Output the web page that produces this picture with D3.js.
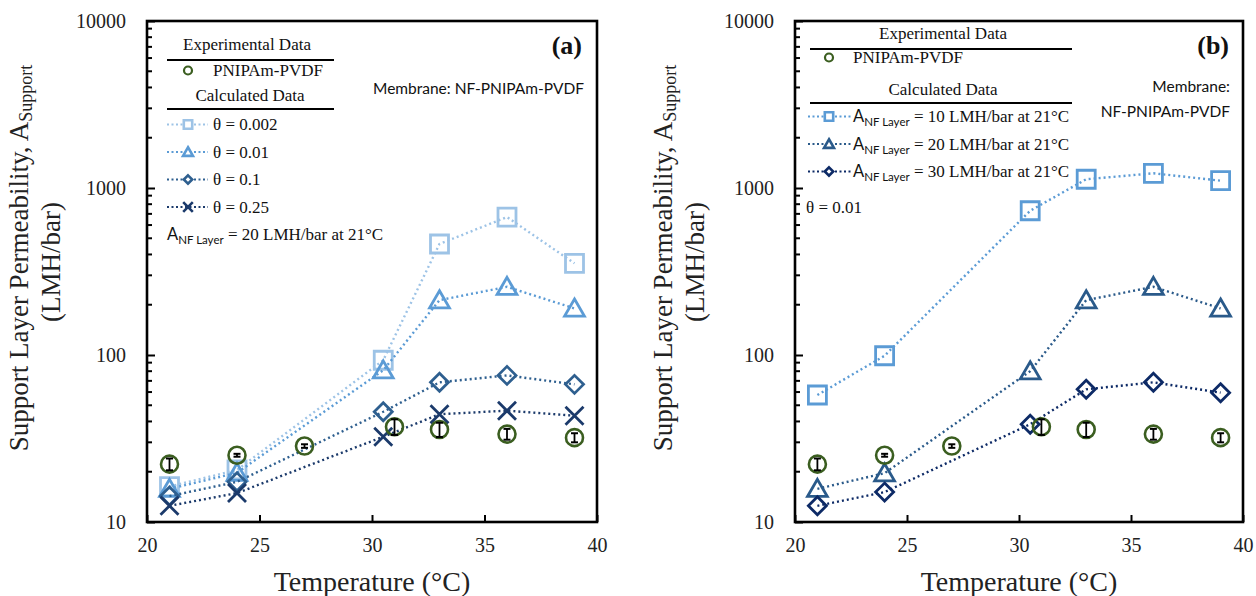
<!DOCTYPE html>
<html><head><meta charset="utf-8">
<script src="https://cdn.jsdelivr.net/npm/d3@7"></script>
<style>
html,body{margin:0;padding:0;background:#fff;}
svg{display:block;}
</style></head>
<body><svg id="c" width="1256" height="596"></svg>
<script>
// ---------- data ----------
const xTicks = [20, 25, 30, 35, 40];
const yTicks = [10, 100, 1000, 10000];
const calcTemps = [21, 24, 30.5, 33, 36, 39];
const expTemps = [21, 24, 27, 31, 33, 36, 39];
const expValues = [22.2, 25.1, 28.5, 37.2, 35.8, 33.6, 32.0];
const expErrors = [1.8, 0.5, 0.7, 4.0, 3.5, 2.5, 2.0];
// panel (a)
const theta0002 = [16.3, 20.5, 93, 462, 670, 354];
const theta001 = [15.8, 19.7, 81, 213, 256, 190];
const theta01 = [14.3, 17.4, 45.7, 68.6, 75.5, 66.7];
const theta025 = [12.5, 14.9, 32.4, 44.2, 46.4, 43.3];
// panel (b)
const anf10 = [57.6, 99, 731, 1128, 1225, 1106];
const anf20 = [15.8, 19.6, 80, 213, 256, 190];
const anf30 = [12.5, 15.1, 38.5, 62.3, 68.6, 59.5];

const serif = "'Liberation Serif','Times New Roman',serif";
const sans = "Lato,'Liberation Sans',sans-serif";
const green = "#3B5E20";
const LF = 17; // legend font size
const svg = d3.select("#c");

function markerPath(shape, s) {
  if (shape === "square") return `M${-s},${-s}H${s}V${s}H${-s}Z`;
  if (shape === "triangle") return `M0,${-s*1.05}L${s*1.1},${s*0.85}L${-s*1.1},${s*0.85}Z`;
  if (shape === "diamond") return `M0,${-s}L${s},0L0,${s}L${-s},0Z`;
  if (shape === "x") return `M${-s},${-s}L${s},${s}M${s},${-s}L${-s},${s}`;
  return "";
}

function drawPanel(cfg) {
  const g = svg.append("g");
  const x = d3.scaleLinear().domain([20, 40]).range([cfg.left, cfg.right]);
  const y = d3.scaleLog().domain([10, 10000]).range([cfg.bottom, cfg.top]);

  // minor ticks (inside) on y axis
  const minor = [];
  for (let d = 10; d < 10000; d *= 10) for (let k = 2; k <= 9; k++) minor.push(d * k);
  g.append("g").selectAll("line").data(minor).join("line")
    .attr("x1", cfg.left).attr("x2", cfg.left + 5)
    .attr("y1", d => y(d)).attr("y2", d => y(d))
    .attr("stroke", "#000").attr("stroke-width", 2);
  // major ticks y
  const yAxis = d3.axisLeft(y).tickValues(yTicks).tickFormat(d3.format("d")).tickSizeInner(-8).tickSizeOuter(0).tickPadding(21);
  const ya = g.append("g").attr("transform", `translate(${cfg.left},0)`).call(yAxis);
  ya.select(".domain").remove();
  ya.selectAll("line").attr("stroke-width", 2);
  ya.selectAll("text").attr("font-family", serif).attr("font-size", 20).attr("fill", "#222");
  // x axis
  const xAxis = d3.axisBottom(x).tickValues(xTicks).tickFormat(d3.format("d")).tickSizeInner(-7).tickSizeOuter(0).tickPadding(16);
  const xa = g.append("g").attr("transform", `translate(0,${cfg.bottom})`).call(xAxis);
  xa.select(".domain").remove();
  xa.selectAll("line").attr("stroke-width", 2);
  xa.selectAll("text").attr("font-family", serif).attr("font-size", 20).attr("fill", "#222");
  // frame
  g.append("rect").attr("x", cfg.left).attr("y", cfg.top)
    .attr("width", cfg.right - cfg.left).attr("height", cfg.bottom - cfg.top)
    .attr("fill", "none").attr("stroke", "#000").attr("stroke-width", 2.6);

  // titles
  g.append("text").attr("x", (cfg.left + cfg.right) / 2).attr("y", 591)
    .attr("text-anchor", "middle").attr("font-family", serif).attr("font-size", 28).attr("fill", "#222")
    .text("Temperature (°C)");
  const yt = g.append("text").attr("transform", `translate(${cfg.ytx},258) rotate(-90)`)
    .attr("text-anchor", "middle").attr("font-family", serif).attr("font-size", 27).attr("fill", "#222");
  yt.append("tspan").text("Support Layer Permeability, A");
  yt.append("tspan").attr("font-size", 18).attr("dy", 4).text("Support");
  g.append("text").attr("transform", `translate(${cfg.ytx + 32},262) rotate(-90)`)
    .attr("text-anchor", "middle").attr("font-family", serif).attr("font-size", 27).attr("fill", "#222")
    .text("(LMH/bar)");

  // calculated series
  const line = d3.line().x(d => x(d[0])).y(d => y(d[1]));
  cfg.series.forEach(s => {
    const pts = calcTemps.map((t, i) => [t, s.values[i]]);
    g.append("path").attr("d", line(pts)).attr("fill", "none").attr("stroke", s.color)
      .attr("stroke-width", 2.4).attr("stroke-dasharray", "2 3");
    g.append("g").selectAll("path").data(pts).join("path")
      .attr("transform", d => `translate(${x(d[0])},${y(d[1])})`)
      .attr("d", markerPath(s.shape, s.size)).attr("fill", "none")
      .attr("stroke", s.color).attr("stroke-width", 2.8);
  });

  // experimental
  const ex = g.append("g");
  expTemps.forEach((t, i) => {
    const cx = x(t), v = expValues[i], e = expErrors[i];
    ex.append("circle").attr("cx", cx).attr("cy", y(v)).attr("r", 8.5)
      .attr("fill", "none").attr("stroke", green).attr("stroke-width", 2.6);
    const y1 = y(v - e), y2 = y(v + e);
    ex.append("line").attr("x1", cx).attr("x2", cx).attr("y1", y1).attr("y2", y2).attr("stroke", "#000").attr("stroke-width", 1.8);
    [y1, y2].forEach(yy => ex.append("line").attr("x1", cx - 3.5).attr("x2", cx + 3.5).attr("y1", yy).attr("y2", yy).attr("stroke", "#000").attr("stroke-width", 2));
  });

  // legend
  const L = cfg.legend;
  const lg = g.append("g").attr("font-family", serif).attr("font-size", LF).attr("fill", "#111");
  lg.append("text").attr("x", L.hcx).attr("y", L.h1y).attr("text-anchor", "middle").text("Experimental Data");
  lg.append("line").attr("x1", L.hx1).attr("x2", L.hx2).attr("y1", L.h1y + 10).attr("y2", L.h1y + 10).attr("stroke", "#000").attr("stroke-width", 2);
  lg.append("circle").attr("cx", L.mx).attr("cy", L.expY - 5.5).attr("r", 4).attr("fill", "none").attr("stroke", green).attr("stroke-width", 2.2);
  lg.append("text").attr("x", L.tx).attr("y", L.expY).text("PNIPAm-PVDF");
  lg.append("text").attr("x", L.hcx2).attr("y", L.h2y).attr("text-anchor", "middle").text("Calculated Data");
  lg.append("line").attr("x1", L.hx1).attr("x2", L.hx2).attr("y1", L.h2y + 8).attr("y2", L.h2y + 8).attr("stroke", "#000").attr("stroke-width", 2);
  cfg.series.forEach((s, i) => {
    const yy = L.itemY0 + i * L.itemDy;
    lg.append("line").attr("x1", L.lx1).attr("x2", L.lx2).attr("y1", yy - 5.5).attr("y2", yy - 5.5)
      .attr("stroke", s.color).attr("stroke-width", 2).attr("stroke-dasharray", "2 2.5");
    lg.append("path").attr("transform", `translate(${L.mx},${yy - 5.5})`).attr("d", markerPath(s.shape, s.lsize))
      .attr("fill", "#fff").attr("stroke", s.color).attr("stroke-width", 2.6);
    const t = lg.append("text").attr("x", L.tx).attr("y", yy);
    s.label(t);
  });
  cfg.extra(g);
}

function anfLabel(val) {
  return t => {
    t.append("tspan").attr("font-family", sans).attr("font-size", 16.5).text("A");
    t.append("tspan").attr("font-family", sans).attr("font-size", 11.5).attr("dy", 4).text("NF Layer");
    t.append("tspan").attr("dy", -4).text(` = ${val} LMH/bar at 21°C`);
  };
}
function thetaLabel(val) { return t => t.text(`θ = ${val}`); }

drawPanel({
  left: 147, right: 597, top: 21, bottom: 522, ytx: 28,
  series: [
    { values: theta0002, color: "#9DC3E6", shape: "square", size: 9, lsize: 4.2, label: thetaLabel("0.002") },
    { values: theta001, color: "#5B9BD5", shape: "triangle", size: 9, lsize: 4.5, label: thetaLabel("0.01") },
    { values: theta01, color: "#2E5F8F", shape: "diamond", size: 9, lsize: 4.2, label: thetaLabel("0.1") },
    { values: theta025, color: "#1B3A6B", shape: "x", size: 9, lsize: 4.8, label: thetaLabel("0.25") }
  ],
  legend: { hcx: 247, hcx2: 250, hx1: 167, hx2: 334, h1y: 50, h2y: 101, expY: 76, mx: 188, tx: 213,
            lx1: 167, lx2: 208, itemY0: 130, itemDy: 27.5 },
  extra: g => {
    g.append("text").attr("x", 582).attr("y", 54).attr("text-anchor", "end")
      .attr("font-family", serif).attr("font-weight", "bold").attr("font-size", 26).attr("fill", "#111").text("(a)");
    g.append("text").attr("x", 584).attr("y", 94).attr("text-anchor", "end")
      .attr("font-family", sans).attr("font-size", 15.5).attr("fill", "#111").text("Membrane: NF-PNIPAm-PVDF");
    const t = g.append("text").attr("x", 167).attr("y", 240).attr("font-family", serif).attr("font-size", LF).attr("fill", "#111");
    anfLabel(20)(t);
  }
});

drawPanel({
  left: 795, right: 1243, top: 21, bottom: 522, ytx: 672,
  series: [
    { values: anf10, color: "#5B9BD5", shape: "square", size: 9, lsize: 4.2, label: anfLabel(10) },
    { values: anf20, color: "#2A5A8A", shape: "triangle", size: 9, lsize: 4.5, label: anfLabel(20) },
    { values: anf30, color: "#0D2A66", shape: "diamond", size: 9, lsize: 4.2, label: anfLabel(30) }
  ],
  legend: { hcx: 943, hcx2: 943, hx1: 810, hx2: 1072, h1y: 39, h2y: 95, expY: 63, mx: 829, tx: 853,
            lx1: 808, lx2: 851, itemY0: 122, itemDy: 27.5 },
  extra: g => {
    g.append("text").attr("x", 1229).attr("y", 54).attr("text-anchor", "end")
      .attr("font-family", serif).attr("font-weight", "bold").attr("font-size", 26).attr("fill", "#111").text("(b)");
    g.append("text").attr("x", 1230).attr("y", 92).attr("text-anchor", "end")
      .attr("font-family", sans).attr("font-size", 15.5).attr("fill", "#111").text("Membrane:");
    g.append("text").attr("x", 1230).attr("y", 117).attr("text-anchor", "end")
      .attr("font-family", sans).attr("font-size", 15.5).attr("fill", "#111").text("NF-PNIPAm-PVDF");
    g.append("text").attr("x", 806).attr("y", 213).attr("font-family", serif).attr("font-size", LF).attr("fill", "#111").text("θ = 0.01");
  }
});
</script></body></html>
